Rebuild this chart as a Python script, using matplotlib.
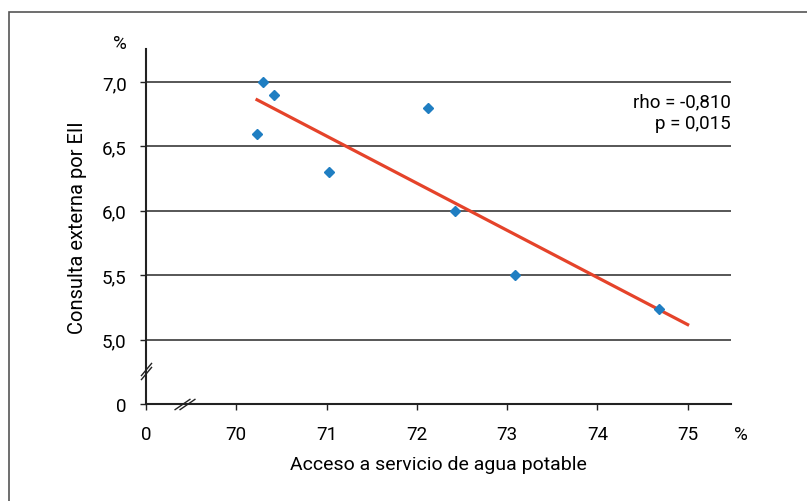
import numpy as np
import matplotlib.pyplot as plt
from matplotlib.patches import Rectangle

plt.rcParams['font.family'] = ['Roboto', 'DejaVu Sans']

# Datos: acceso a agua potable (%) vs consulta externa por EII (%)
agua = [70.23, 70.30, 70.42, 71.03, 72.12, 72.42, 73.09, 74.68]
consulta = [6.60, 7.00, 6.90, 6.30, 6.80, 6.00, 5.50, 5.24]

xticks = [69, 70, 71, 72, 73, 74, 75]
xlabels = ['0', '70', '71', '72', '73', '74', '75']
yticks = [4.5, 5.0, 5.5, 6.0, 6.5, 7.0]
ylabels = ['0', '5,0', '5,5', '6,0', '6,5', '7,0']

rho_txt = 'rho = -0,810\np = 0,015'

fig = plt.figure(figsize=(8.07, 5.02), dpi=100)
ax = fig.add_axes([0.1809, 0.1932, 0.7249, 0.7072])

# marco de la figura
fig.patches.append(Rectangle((9/807, -0.1), 1.2, (502-13)/502 + 0.1, transform=fig.transFigure,
                             fill=False, edgecolor='#555555', lw=1.2))

# lineas de la cuadricula
for y in yticks[1:]:
    ax.axhline(y, color='#3a3a3a', lw=1.2, zorder=1)

# recta de regresion
m, b = np.polyfit(agua, consulta, 1)
xl = np.array([min(agua), 75.0])
ax.plot(xl, m*xl + b, color='#e5432a', lw=2.3, zorder=2)

ax.plot(agua, consulta, 'D', color='#1f7ec2', ms=5.3, zorder=3)

ax.set_xlim(69, 75.48)
ax.set_ylim(4.5, 7.256)
ax.set_xticks(xticks)
ax.set_xticklabels(xlabels)
ax.set_yticks(yticks)
ax.set_yticklabels(ylabels)
ax.tick_params(axis='both', labelsize=13.5, length=4, width=1, color='#222222')
ax.tick_params(axis='x', pad=11)
ax.tick_params(axis='y', pad=10)

for s in ['top', 'right']:
    ax.spines[s].set_visible(False)
for s in ['left', 'bottom']:
    ax.spines[s].set_linewidth(1.5)
    ax.spines[s].set_color('#222222')

# cortes de ejes
ax.plot([69.0, 69.0], [4.770, 4.744], marker=[(-1, -1.2), (1, 1.2)], ls='none',
        ms=9.5, color='#222222', mew=1, clip_on=False, zorder=5)
ax.plot([69.40, 69.45], [4.5, 4.5], marker=[(-1.45, -1), (1.45, 1)], ls='none',
        ms=11.5, color='#222222', mew=1, clip_on=False, zorder=5)

ax.set_xlabel('Acceso a servicio de agua potable', fontsize=14, labelpad=9)
ax.set_ylabel('Consulta externa por EII', fontsize=14.5, labelpad=11)

ax.text(-0.045, 1.016, '%', transform=ax.transAxes, fontsize=13.5, ha='center', va='center')
ax.text(1.005, -0.085, '%', transform=ax.transAxes, fontsize=13.5, ha='left', va='center')
ax.text(1.0, 6.765, rho_txt, transform=ax.get_yaxis_transform(), fontsize=13.5,
        ha='right', va='center', linespacing=1.3)

fig.savefig('out.png', dpi=100)
